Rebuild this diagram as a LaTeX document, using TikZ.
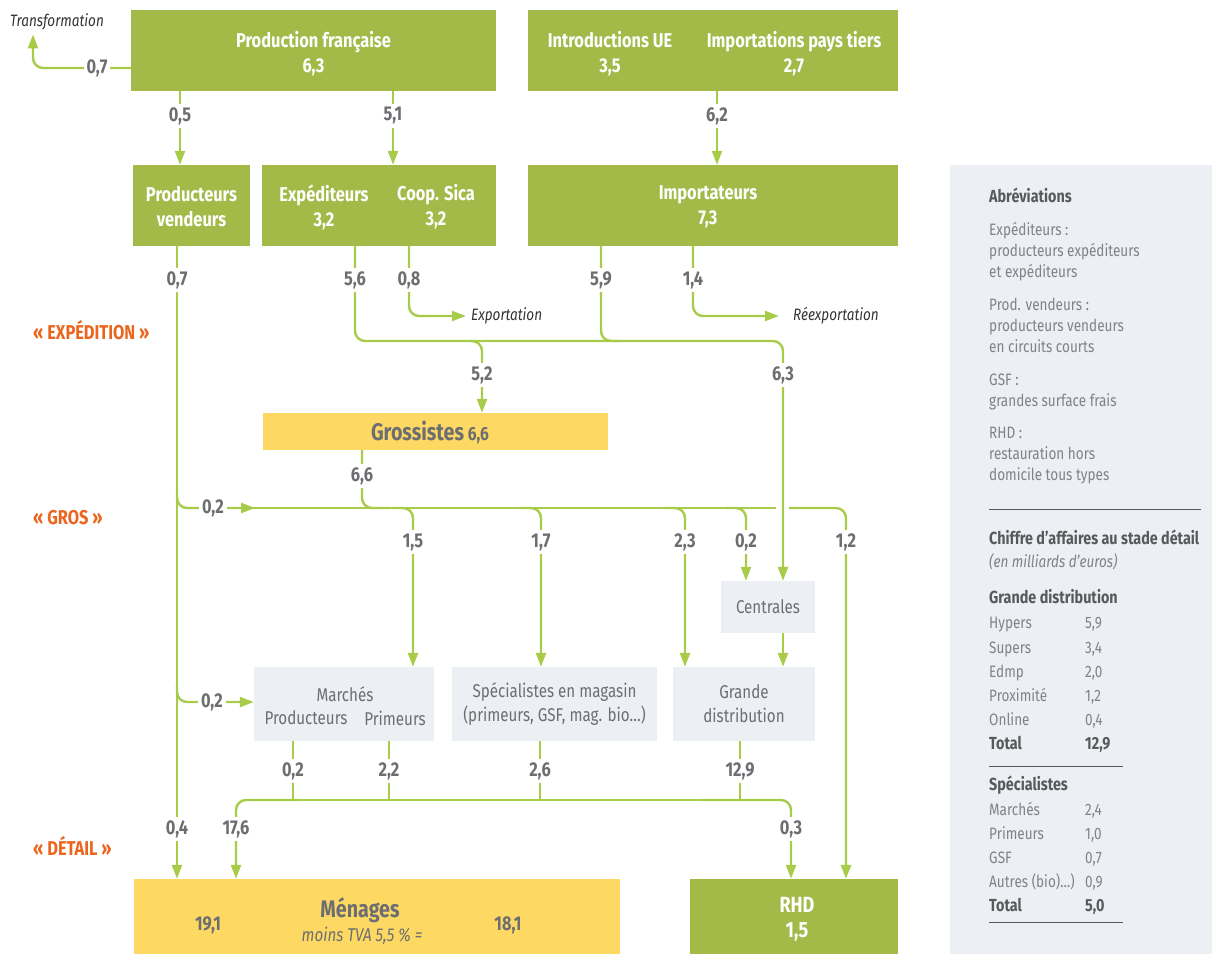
\documentclass[tikz,border=0pt]{standalone}
\usepackage{fontspec}
\setmainfont{Fira Sans}[FakeStretch=0.82]
\usetikzlibrary{arrows.meta}

\definecolor{boxgreen}{RGB}{163,185,72}
\definecolor{flowgreen}{RGB}{168,204,74}
\definecolor{boxyellow}{RGB}{253,217,99}
\definecolor{boxgrey}{RGB}{236,240,244}
\definecolor{txtgrey}{RGB}{109,110,113}
\definecolor{lightgrey}{RGB}{128,130,133}
\definecolor{headgrey}{RGB}{88,89,91}
\definecolor{stageorange}{RGB}{236,101,30}

\tikzset{
  boxtxt/.style={text=white,font=\bfseries\fontsize{20}{25}\selectfont,align=center,inner sep=0pt},
  greenbox/.style={boxtxt,fill=boxgreen},
  yellowbox/.style={fill=boxyellow,inner sep=0pt},
  greybox/.style={fill=boxgrey,text=txtgrey,font=\fontsize{18.5}{24}\selectfont,align=center,inner sep=0pt},
  lighttxt/.style={text=txtgrey,font=\fontsize{18.5}{24}\selectfont,inner sep=0pt},
  flow/.style={draw=flowgreen,line width=2.4pt,rounded corners=10pt},
  arr/.style={-{Triangle[length=14pt,width=10pt]}},
  val/.style={fill=white,text=txtgrey,font=\bfseries\fontsize{20}{22}\selectfont,inner sep=3pt},
  valtxt/.style={text=txtgrey,font=\bfseries\fontsize{20}{22}\selectfont,inner sep=0pt},
  note/.style={text=black!80,font=\itshape\fontsize{16.5}{19}\selectfont,inner sep=0pt},
  stage/.style={anchor=west,text=stageorange,font=\bfseries\fontsize{20}{22}\selectfont,inner sep=0pt},
  paneltxt/.style={anchor=base west,text=lightgrey,font=\fontsize{16.5}{21}\selectfont,inner sep=0pt},
  panelhead/.style={anchor=base west,text=headgrey,font=\bfseries\fontsize{17.5}{21}\selectfont,inner sep=0pt},
  rulegrey/.style={draw=headgrey,line width=1pt}
}

\begin{document}
\begin{tikzpicture}[x=1pt,y=-1pt]
\useasboundingbox (0,0) rectangle (1212,954);

% boxes
\node[greenbox,minimum width=365pt,minimum height=81pt] (prodfr) at (313.5,50.5) {};
\node[boxtxt] (prodfrtxt) at (313.5,53.5) {Production française\\6,3};
\node[greenbox,minimum width=370pt,minimum height=81pt] (imports) at (713,50.5) {};
\node[boxtxt] (intro) at (610,54) {Introductions UE\\3,5};
\node[boxtxt] (tiers) at (794,54) {Importations pays tiers\\2,7};
\node[greenbox,minimum width=117pt,minimum height=81pt] (pv) at (191.5,205.5) {};
\node[boxtxt] (pvtxt) at (191.5,207) {Producteurs\\vendeurs};
\node[greenbox,minimum width=234pt,minimum height=81pt] (exped) at (379,205.5) {};
\node[boxtxt] (expedtxt) at (324,207) {Expéditeurs\\3,2};
\node[boxtxt] (coop) at (436,207) {Coop. Sica\\3,2};
\node[greenbox,minimum width=370pt,minimum height=81pt] (importateurs) at (713,205.5) {};
\node[boxtxt] (importtxt) at (708,207) {Importateurs\\7,3};
\node[yellowbox,minimum width=345pt,minimum height=37pt] (gros) at (435.5,431.5) {};
\node[valtxt] (grostxt) at (430,432) {{\fontsize{24}{26}\selectfont Grossistes} {\fontsize{19}{21}\selectfont 6,6}};
\node[greybox,minimum width=94pt,minimum height=52pt] (centrales) at (768,607) {Centrales};
\node[greybox,minimum width=180pt,minimum height=74pt] (marches) at (344,704) {};
\node[lighttxt] (marchestxt) at (345,694) {Marchés};
\node[lighttxt] (marchesprod) at (306,718) {Producteurs};
\node[lighttxt] (marchesprim) at (395,718) {Primeurs};
\node[greybox,minimum width=205pt,minimum height=74pt] (specs) at (554.5,704) {Spécialistes en magasin\\(primeurs, GSF, mag. bio…)};
\node[greybox,minimum width=142pt,minimum height=74pt] (gd) at (744,704) {Grande\\distribution};
\node[yellowbox,minimum width=486pt,minimum height=75pt] (menages) at (377,916.5) {};
\node[valtxt,font=\bfseries\fontsize{24}{26}\selectfont] (menagestxt) at (360,910) {Ménages};
\node[valtxt,font=\itshape\fontsize{18.5}{20}\selectfont] (tva) at (362,936) {moins TVA 5,5 \% =};
\node[valtxt] (ttc) at (208,925) {19,1};
\node[valtxt] (ht) at (508,925) {18,1};
\node[greenbox,minimum width=208pt,minimum height=75pt] (rhd) at (794,916.5) {};
\node[boxtxt,font=\bfseries\fontsize{22}{25}\selectfont] (rhdtxt) at (797,919) {RHD\\1,5};

% notes
\node[note] (transf) at (57,22) {Transformation};
\node[note,anchor=west] (export) at (471,316) {Exportation};
\node[note,anchor=west] (reexport) at (793,316) {Réexportation};

% stages
\node[stage] (expedition) at (33,330) {« EXPÉDITION »};
\node[stage] (grosstage) at (33,518) {« GROS »};
\node[stage] (detail) at (33,846) {« DÉTAIL »};

% production
\draw[flow,arr] (prodfr.west |- 0,68) -- (33,68) -- ([yshift=-4pt]transf.south -| 33,0);
\draw[flow,arr] (180,0 |- prodfr.south) -- (180,0 |- pv.north);
\draw[flow,arr] (393,0 |- prodfr.south) -- (393,0 |- exped.north);
\draw[flow,arr] (717,0 |- imports.south) -- (717,0 |- importateurs.north);
\node[val] (v07t) at (97,68) {0,7};
\node[val] (v05) at (180,116) {0,5};
\node[val] (v51) at (393,116) {5,1};
\node[val] (v62) at (717,116) {6,2};

% expedition
\draw[flow,arr] (177,0 |- pv.south) -- (177,0 |- menages.north);
\draw[flow,arr] (355,0 |- exped.south) -- (355,341) -- (482,341) -- (482,0 |- gros.north);
\draw[flow,arr] (470,341) -- (783,341) -- (783,0 |- centrales.north);
\draw[flow] (601,0 |- importateurs.south) -- (601,341) -- (620,341);
\draw[flow,arr] (409,0 |- exped.south) -- (409,316) -- ([xshift=-5pt]export.west);
\draw[flow,arr] (693,0 |- importateurs.south) -- (693,316) -- ([xshift=-14pt]reexport.west);
\node[val] (v07) at (177,280) {0,7};
\node[val] (v56) at (355,280) {5,6};
\node[val] (v08) at (409,280) {0,8};
\node[val] (v59) at (601,280) {5,9};
\node[val] (v14) at (693,280) {1,4};
\node[val] (v52) at (482,375) {5,2};
\node[val] (v63) at (783,375) {6,3};

% gros
\draw[flow] (250,508) -- (776,508);
\draw[flow,arr] (177,490) -- (177,508) -- (255,508);
\draw[flow] (362,0 |- gros.south) -- (362,508) -- (390,508);
\foreach \x/\v/\t in {413/{1,5}/marches,541/{1,7}/specs,685/{2,3}/gd,746/{0,2}/centrales}{
  \draw[flow,arr] (\x-20,508) -- (\x,508) -- (\x,0 |- \t.north);
  \node[val] (v\t) at (\x,542) {\v};
}
\draw[flow,arr] (789,508) -- (846,508) -- (846,0 |- rhd.north);
\draw[flow,arr] (783,0 |- centrales.south) -- (783,0 |- gd.north);
\draw[flow,arr] (177,685) -- (177,702) -- (marches.west |- 0,702);
\node[val] (v02g) at (213,508) {0,2};
\node[val] (v66) at (362,476) {6,6};
\node[val] (v12) at (846,542) {1,2};
\node[val] (v02m) at (212,702) {0,2};

% detail
\foreach \x/\v/\t in {293/{0,2}/marches,389/{2,2}/marches,540/{2,6}/specs,740/{12,9}/gd}{
  \draw[flow] (\x,0 |- \t.south) -- (\x,800);
  \node[val] (d\x) at (\x,771) {\v};
}
\draw[flow] (290,800) -- (700,800);
\draw[flow,arr] (300,800) -- (236,800) -- (236,0 |- menages.north);
\draw[flow,arr] (700,800) -- (791,800) -- (791,0 |- rhd.north);
\node[val] (v04) at (177,829) {0,4};
\node[val] (v176) at (236,829) {17,6};
\node[val] (v03) at (791,829) {0,3};

% panel
\fill[boxgrey] (950,165) rectangle (1212,954);
\node[panelhead] (abrev) at (989,202) {Abréviations};
\foreach \y/\t in {229/Expéditeurs :,250/producteurs expéditeurs,271/et expéditeurs,
  304/Prod. vendeurs :,325/producteurs vendeurs,346/en circuits courts,
  379/GSF :,400/grandes surface frais,432/RHD :,453/restauration hors,474/domicile tous types}{
  \node[paneltxt] (ab\y) at (989,\y+6) {\t};
}
\draw[rulegrey] (989,509) -- (1201,509);
\node[panelhead] (ca) at (989,544) {Chiffre d’affaires au stade détail};
\node[paneltxt,font=\itshape\fontsize{16.5}{21}\selectfont] (unit) at (989,567) {(en milliards d’euros)};
\node[panelhead] (gdhead) at (989,603) {Grande distribution};
\foreach \y/\a/\b in {622/Hypers/{5,9},647/Supers/{3,4},671/Edmp/{2,0},695/Proximité/{1,2},719/Online/{0,4}}{
  \node[paneltxt] (gda\y) at (989,\y+6) {\a};
  \node[paneltxt] (gdb\y) at (1085,\y+6) {\b};
}
\node[panelhead] (gdtot) at (989,749) {Total};
\node[panelhead] (gdtotv) at (1085,749) {12,9};
\draw[rulegrey] (989,766) -- (1123,766);
\node[panelhead] (sphead) at (989,790) {Spécialistes};
\foreach \y/\a/\b in {809/Marchés/{2,4},833/Primeurs/{1,0},857/GSF/{0,7},881/Autres (bio)…)/{0,9}}{
  \node[paneltxt] (spa\y) at (989,\y+6) {\a};
  \node[paneltxt] (spb\y) at (1085,\y+6) {\b};
}
\node[panelhead] (sptot) at (989,911) {Total};
\node[panelhead] (sptotv) at (1085,911) {5,0};
\draw[rulegrey] (989,922) -- (1123,922);
\end{tikzpicture}
\end{document}
